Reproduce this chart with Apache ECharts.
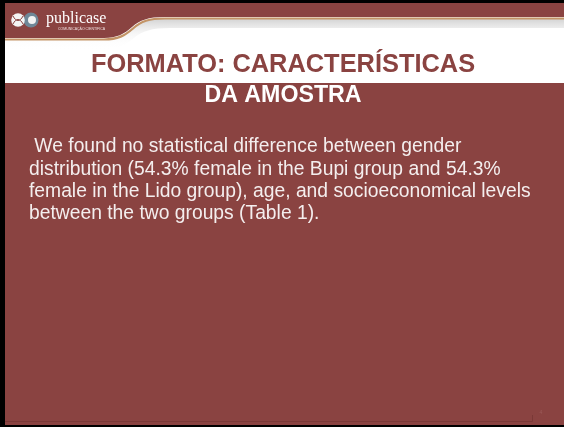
<!DOCTYPE html>
<html><head><meta charset="utf-8">
<script src="https://cdn.jsdelivr.net/npm/echarts@6/dist/echarts.min.js"></script>
<style>html,body{margin:0;padding:0;background:#000;}#c{width:564px;height:427px;}</style>
</head><body><div id="c"></div>
<script>
const brandName = 'publicase';
const brandTagline = 'COMUNICAÇÃO CIENTÍFICA';
const titleLines = ['FORMATO: CARACTERÍSTICAS', 'DA AMOSTRA'];
const bodyLines = [
  ' We found no statistical difference between gender',
  'distribution (54.3% female in the Bupi group and 54.3%',
  'female in the Lido group), age, and socioeconomical levels',
  'between the two groups (Table 1).'
];
const pageNumber = ['4'];

const MAROON = '#8a4341';
const FONT = '"Liberation Sans", Arial, sans-serif';

function reg(name, d) {
  echarts.graphic.registerShape(name, echarts.graphic.extendPath(d, {}));
}
reg('hdrShadow', 'M5 40 H100 C115 40 122 36 130 29 C140 21 150 18 170 18 H564 V28 H170 C152 28 142 31 134 38 C124 46 116 50 100 50 H5 Z');
reg('hdrBand', 'M5 3 H564 V17 H165 C148 17 140 20 132 27 C124 34 117 38 104 38 H5 Z');
reg('hdrEdge', 'M5 39.5 H104 C118 39.5 125 35.5 133 28.5 C141 21 149 18.5 165 18.5 H564');
reg('dna', 'M13 16 C16 22 20 22 23 16 M13 24 C16 18 20 18 23 24');
reg('footLine', 'M5 421.5 H532.5 V415');

const chart = echarts.init(document.getElementById('c'), null, {renderer: 'canvas'});
const g = [];
g.push({type: 'rect', shape: {x: 0, y: 0, width: 564, height: 427}, style: {fill: '#000'}, z: 0});
g.push({type: 'rect', shape: {x: 5, y: 3, width: 559, height: 422}, style: {fill: '#ffffff'}, z: 1});
g.push({type: 'rect', shape: {x: 5, y: 83, width: 559, height: 342}, style: {fill: MAROON}, z: 2});
g.push({type: 'hdrShadow', shape: {}, style: {fill: {type: 'linear', x: 0, y: 0, x2: 0, y2: 1, colorStops: [{offset: 0, color: 'rgba(120,120,120,0.35)'}, {offset: 0.5, color: 'rgba(200,200,200,0.15)'}, {offset: 1, color: 'rgba(255,255,255,0)'}]}}, z: 3});
g.push({type: 'hdrBand', shape: {}, style: {fill: MAROON}, z: 4});
g.push({type: 'hdrEdge', shape: {}, style: {fill: null, stroke: '#c39466', lineWidth: 2.2}, z: 5});
g.push({type: 'circle', shape: {cx: 31, cy: 20, r: 7.5}, style: {fill: '#6f8797'}, z: 6});
g.push({type: 'circle', shape: {cx: 32, cy: 20, r: 4}, style: {fill: '#f2f2f2'}, z: 7});
g.push({type: 'circle', shape: {cx: 18, cy: 20, r: 6.8}, style: {fill: '#f4f4f4'}, z: 7});
g.push({type: 'dna', shape: {}, style: {fill: null, stroke: '#8a4341', lineWidth: 1}, z: 8});
g.push({type: 'text', x: 46, y: 19, style: {text: brandName, font: '16px "Liberation Serif", serif', fill: '#ffffff', verticalAlign: 'middle'}, z: 9});
g.push({type: 'text', x: 58, y: 29.5, style: {text: brandTagline, font: '3.5px sans-serif', fill: '#f0e0e0', verticalAlign: 'middle'}, z: 9});
g.push({type: 'text', x: 283, y: 65, style: {text: titleLines[0], font: 'bold 25.4px ' + FONT, fill: MAROON, align: 'center', verticalAlign: 'middle'}, z: 9});
g.push({type: 'text', x: 283, y: 96, style: {text: titleLines[1], font: 'bold 23.2px ' + FONT, fill: '#ffffff', align: 'center', verticalAlign: 'middle'}, z: 9});
bodyLines.forEach((t, i) => {
  g.push({type: 'text', x: 29, y: 147 + i * 22.3, style: {text: t, font: '19.3px ' + FONT, fill: '#f4eeee', verticalAlign: 'middle'}, z: 9});
});
g.push({type: 'footLine', shape: {}, style: {fill: null, stroke: '#7a3836', lineWidth: 1}, z: 9});
g.push({type: 'text', x: 541, y: 413, style: {text: pageNumber[0], font: '5px ' + FONT, fill: '#9a5a58', align: 'center', verticalAlign: 'middle'}, z: 9});

chart.setOption({animation: false, graphic: {elements: g}});
</script></body></html>
